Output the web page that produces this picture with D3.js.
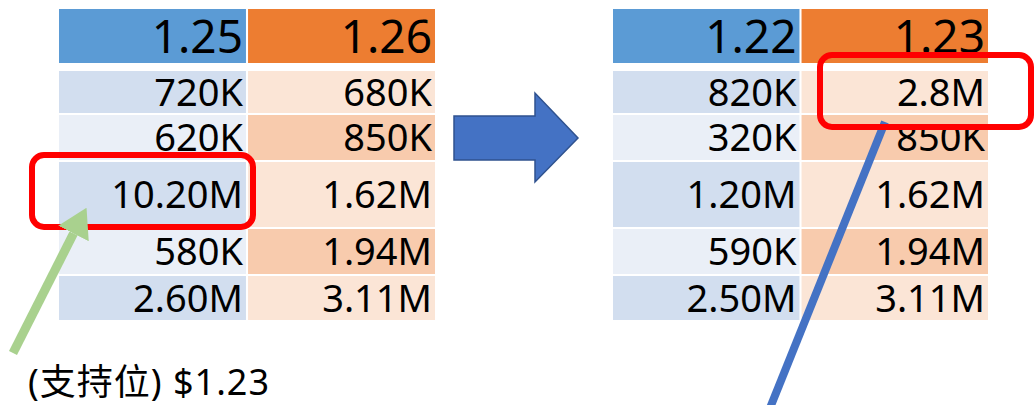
<!DOCTYPE html>
<html>
<head>
<meta charset="utf-8">
<script src="https://cdn.jsdelivr.net/npm/d3@7"></script>
<style>
  body { margin: 0; background: #fff; }
  svg { display: block; font-family: "Noto Sans", "Noto Sans CJK TC", sans-serif; }
</style>
</head>
<body>
<div id="chart"></div>
<script>
// before / after order-book snapshots
const columns = ["bid", "ask"];
const leftHeader = ["1.25", "1.26"];
const leftBid = ["720K", "620K", "10.20M", "580K", "2.60M"];
const leftAsk = ["680K", "850K", "1.62M", "1.94M", "3.11M"];
const rightHeader = ["1.22", "1.23"];
const rightBid = ["820K", "320K", "1.20M", "590K", "2.50M"];
const rightAsk = ["2.8M", "850K", "1.62M", "1.94M", "3.11M"];
const supportLabel = "(支持位) $1.23";

const W = 1034, H = 405;
const HEADER = { blue: "#5B9BD5", orange: "#ED7D31" };
const BAND = {
  bid: ["#D2DEEF", "#EAEFF7"],
  ask: ["#FBE5D6", "#F8CBAD"]
};

// row layout (pixel heights of each body row)
const rowHeights = [42, 45, 65, 45, 44];
const headerTop = 9, headerH = 54, bodyTop = 71, rowGap = 2;
const rowY = [];
rowHeights.reduce((y, h) => { rowY.push(y); return y + h + rowGap; }, bodyTop);

const svg = d3.select("#chart").append("svg")
  .attr("width", W).attr("height", H);

function drawTable(x0, x1, header, bid, ask) {
  const x = d3.scaleBand().domain(columns).range([x0, x1]).paddingInner(0.011);
  const g = svg.append("g");

  // header cells
  g.selectAll("rect.hd").data(columns).enter().append("rect")
    .attr("class", "hd")
    .attr("x", d => x(d)).attr("y", headerTop)
    .attr("width", x.bandwidth()).attr("height", headerH)
    .attr("fill", (d, i) => i === 0 ? HEADER.blue : HEADER.orange);
  g.selectAll("text.hd").data(header).enter().append("text")
    .attr("class", "hd")
    .attr("x", (d, i) => x(columns[i]) + x.bandwidth() - 3)
    .attr("y", headerTop + headerH / 2 + 16.5)
    .attr("text-anchor", "end")
    .style("font-size", "46px")
    .text(d => d);

  // body cells
  const cells = [];
  bid.forEach((v, r) => cells.push({ col: "bid", r, v }));
  ask.forEach((v, r) => cells.push({ col: "ask", r, v }));

  g.selectAll("rect.cell").data(cells).enter().append("rect")
    .attr("class", "cell")
    .attr("x", d => x(d.col)).attr("y", d => rowY[d.r])
    .attr("width", x.bandwidth()).attr("height", d => rowHeights[d.r])
    .attr("fill", d => BAND[d.col][d.r % 2]);
  g.selectAll("text.cell").data(cells).enter().append("text")
    .attr("class", "cell")
    .attr("x", d => x(d.col) + x.bandwidth() - 3)
    .attr("y", d => rowY[d.r] + rowHeights[d.r] / 2 + 13.5)
    .attr("text-anchor", "end")
    .style("font-size", "38px")
    .text(d => d.v);
}

drawTable(59, 435, leftHeader, leftBid, leftAsk);
drawTable(613, 988, rightHeader, rightBid, rightAsk);

// big block arrow between the tables
const arrowPts = [[454,116],[535,116],[535,93],[578,138],[535,182],[535,160],[454,160]];
svg.append("path")
  .attr("d", d3.line()(arrowPts) + "Z")
  .attr("fill", "#4472C4")
  .attr("stroke", "#2F528F")
  .attr("stroke-width", 1.5);

// red highlight boxes
svg.append("rect")
  .attr("x", 32).attr("y", 155).attr("width", 221).attr("height", 72)
  .attr("rx", 12).attr("fill", "none")
  .attr("stroke", "#FF0000").attr("stroke-width", 6);

// blue pointer line (drawn before the box so it ends under it)
svg.append("line")
  .attr("x1", 770).attr("y1", 408).attr("x2", 885).attr("y2", 122)
  .attr("stroke", "#4472C4").attr("stroke-width", 8);

svg.append("rect")
  .attr("x", 820).attr("y", 55).attr("width", 211).attr("height", 72)
  .attr("rx", 12).attr("fill", "none")
  .attr("stroke", "#FF0000").attr("stroke-width", 6);

// green arrow to the support cell
svg.append("defs").append("marker")
  .attr("id", "gh").attr("viewBox", "0 0 10 10")
  .attr("refX", 0).attr("refY", 5)
  .attr("markerWidth", 3.2).attr("markerHeight", 3.8)
  .attr("orient", "auto")
  .attr("preserveAspectRatio", "none")
  .append("path").attr("d", "M0,0L10,5L0,10Z").attr("fill", "#A9D18E");
svg.append("line")
  .attr("x1", 13).attr("y1", 353).attr("x2", 73.5).attr("y2", 233.5)
  .attr("stroke", "#A9D18E").attr("stroke-width", 9)
  .attr("marker-end", "url(#gh)");

svg.append("text")
  .attr("x", 28).attr("y", 395)
  .style("font-size", "36px")
  .style("letter-spacing", "1px")
  .text(supportLabel);
</script>
</body>
</html>
